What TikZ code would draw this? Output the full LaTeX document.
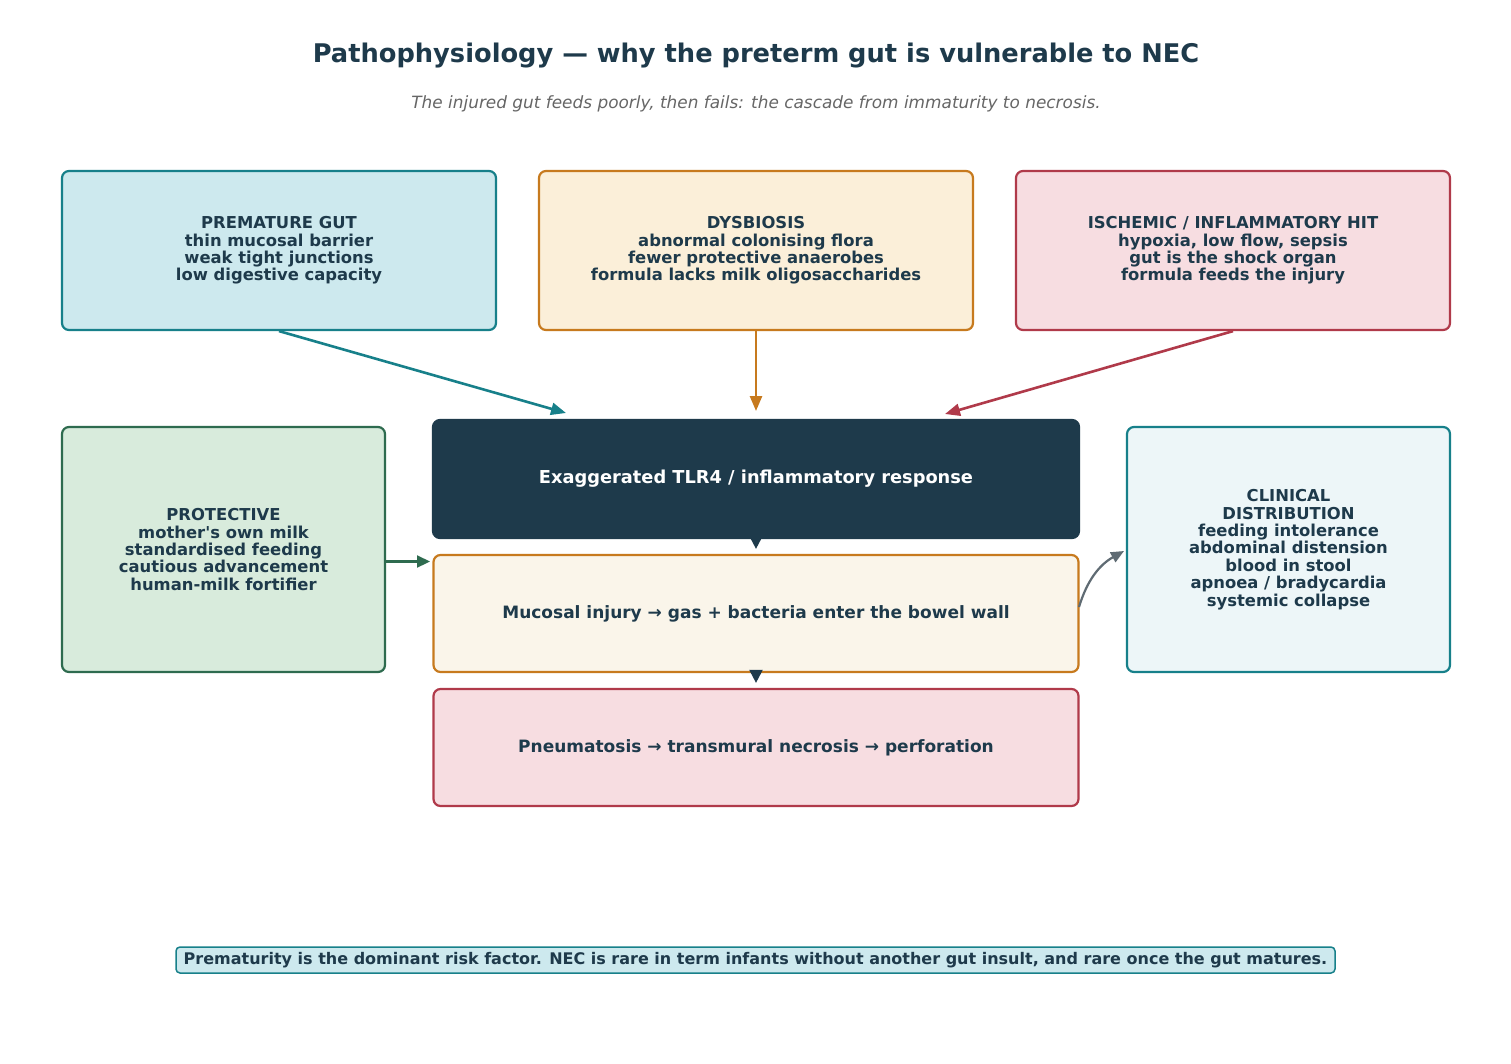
\documentclass[tikz,border=0pt]{standalone}
\usepackage{fontspec}
\setmainfont{DejaVu Sans}
\usetikzlibrary{arrows.meta}
\definecolor{ink}{HTML}{1E3A4B}
\definecolor{teal}{HTML}{17808A}
\definecolor{tealfill}{HTML}{CDE9EE}
\definecolor{orng}{HTML}{C77A1E}
\definecolor{orngfill}{HTML}{FBEFD9}
\definecolor{redd}{HTML}{B03A4A}
\definecolor{reddfill}{HTML}{F7DDE1}
\definecolor{grn}{HTML}{2E6B4F}
\definecolor{grnfill}{HTML}{D8EBDC}
\definecolor{mucfill}{HTML}{FAF5EA}
\definecolor{clinfill}{HTML}{EDF6F8}
\definecolor{grayarrow}{HTML}{5F6B73}
\definecolor{subgray}{HTML}{666666}
\tikzset{
  box/.style={rectangle, rounded corners=7pt, line width=2.2pt, inner sep=0pt, align=center,
    text=ink, font=\fontsize{16.4}{17.4}\selectfont\bfseries},
  bigtxt/.style={font=\fontsize{17}{20}\selectfont\bfseries},
  conn/.style={line width=2.6pt, -{Triangle[length=15pt,width=12pt]}},
}
\begin{document}
\begin{tikzpicture}[x=1pt,y=-1pt]
\useasboundingbox[fill=white] (0,0) rectangle (1511,1063);
\node[font=\fontsize{25.7}{30}\selectfont\bfseries, text=ink] (title) at (756,56) {Pathophysiology — why the preterm gut is vulnerable to NEC};
\node[font=\fontsize{16.9}{20}\selectfont\itshape, text=subgray] (sub) at (756,104) {The injured gut feeds poorly, then fails: the cascade from immaturity to necrosis.};

\node[box, draw=teal, fill=tealfill, minimum width=434pt, minimum height=159pt] (pg) at (279,250.5)
  {PREMATURE GUT\\thin mucosal barrier\\weak tight junctions\\low digestive capacity};
\node[box, draw=orng, fill=orngfill, minimum width=434pt, minimum height=159pt] (dys) at (756,250.5)
  {DYSBIOSIS\\abnormal colonising flora\\fewer protective anaerobes\\formula lacks milk oligosaccharides};
\node[box, draw=redd, fill=reddfill, minimum width=434pt, minimum height=159pt] (isc) at (1233,250.5)
  {ISCHEMIC / INFLAMMATORY HIT\\hypoxia, low flow, sepsis\\gut is the shock organ\\formula feeds the injury};
\node[box, draw=grn, fill=grnfill, minimum width=323pt, minimum height=245pt] (prot) at (223.5,549.5)
  {PROTECTIVE\\mother\textquotesingle s own milk\\standardised feeding\\cautious advancement\\human-milk fortifier};
\node[box, draw=ink, fill=ink, text=white, minimum width=646pt, minimum height=118pt, font=\fontsize{17.8}{20}\selectfont\bfseries] (tlr) at (756,479)
  {Exaggerated TLR4 / inflammatory response};
\node[box, bigtxt, draw=orng, fill=mucfill, minimum width=645pt, minimum height=117pt] (muc) at (756,613.5)
  {Mucosal injury → gas + bacteria enter the bowel wall};
\node[box, bigtxt, draw=redd, fill=reddfill, minimum width=645pt, minimum height=117pt] (pne) at (756,747.5)
  {Pneumatosis → transmural necrosis → perforation};
\node[box, draw=teal, fill=clinfill, minimum width=323pt, minimum height=245pt] (clin) at (1288.5,549.5)
  {CLINICAL\\DISTRIBUTION\\feeding intolerance\\abdominal distension\\blood in stool\\apnoea / bradycardia\\systemic collapse};
\node[box, draw=teal, fill=tealfill, rounded corners=4pt, line width=1.5pt, minimum width=1159pt, minimum height=26pt, font=\fontsize{16}{18}\selectfont\bfseries] (foot) at (755.5,960)
  {Prematurity is the dominant risk factor. NEC is rare in term infants without another gut insult, and rare once the gut matures.};

\coordinate (tpg) at (566,413);
\coordinate (tdys) at (756,411);
\coordinate (tisc) at (945,414);
\coordinate (tgrn) at (430,561.5);
\coordinate (sgrn) at (386,561.5);
\coordinate (sgray) at (1079,607);
\coordinate (tgray) at (1124,551);

\draw[conn, teal] (pg.south) -- (tpg);
\draw[conn, orng] (dys.south) -- (tdys);
\draw[conn, redd] (isc.south) -- (tisc);
\draw[ink, line width=2pt, -{Triangle[length=12pt,width=12pt]}, shorten >=5pt] (tlr.south) -- (muc.north);
\draw[ink, line width=2pt, -{Triangle[length=13pt,width=13pt]}, shorten >=5pt] (muc.south) -- (pne.north);
\draw[grn, line width=2.2pt, -{Triangle[length=13pt,width=12pt]}] (sgrn) -- (tgrn);
\draw[grayarrow, line width=2.2pt, -{Triangle[length=13pt,width=11pt]}] (sgray) to[bend left=22] (tgray);
\end{tikzpicture}
\end{document}
